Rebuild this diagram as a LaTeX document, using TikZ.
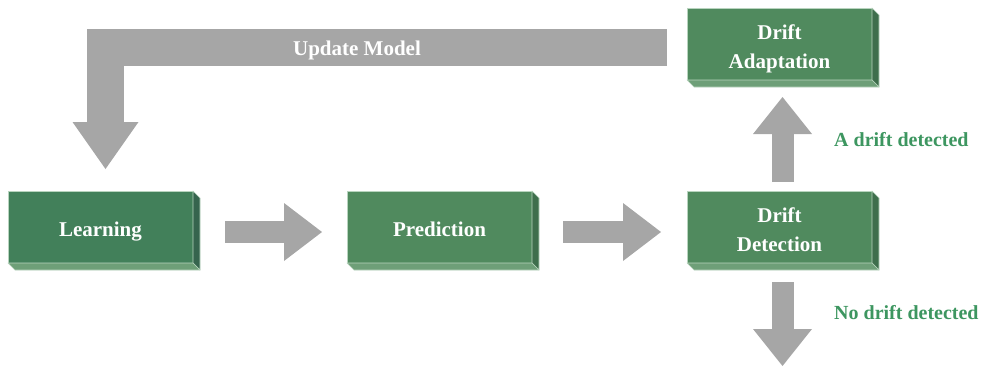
\documentclass[tikz,border=0pt]{standalone}
\usepackage{fontspec}
\setmainfont{Liberation Serif}
\usetikzlibrary{arrows.meta, calc}
\definecolor{slabFront}{HTML}{508A5E}
\definecolor{slabFrontDk}{HTML}{42805A}
\definecolor{slabSide}{HTML}{3E6E4C}
\definecolor{slabSideDk}{HTML}{36644E}
\definecolor{slabBottom}{HTML}{6E9F78}
\definecolor{slabEdge}{HTML}{B8D4BE}
\definecolor{flowGray}{HTML}{A6A6A6}
\definecolor{noteGreen}{HTML}{3D9660}

\begin{document}
\begin{tikzpicture}[
            % one unit = one pixel of the 982x370 layout, y grows downwards
            x=1pt, y=-1pt,
            slab/.style ={draw=slabEdge, line width=0.6pt, fill=slabFront, text=white, align=center,
                    minimum width=185pt, minimum height=72pt, inner sep=0pt, outer sep=0pt,
                    font=\fontsize{21}{29}\selectfont\bfseries, text height=19pt, text depth=0pt},
            % two-line labels: the box height runs up from the last baseline
            slab2/.style={slab, text height=48pt},
            face/.style ={draw=slabEdge, line width=0.6pt, line join=round},
            % the wide grey block arrows: a thick stroke with a flat triangle head
            flow/.style ={draw=flowGray, line width=22pt,
                    -{Triangle[length=38pt, width=58pt, line width=0pt]}},
            note/.style ={text=noteGreen, font=\fontsize{20}{24}\selectfont\bfseries,
                    anchor=west, inner sep=0pt}
        ]
        \useasboundingbox (0,0) rectangle (982,370);

        \node[slab, fill=slabFrontDk] (learn) at (100.5,227) {Learning};
        \node[slab]  (pred)  at (439.5,227) {Prediction};
        \node[slab2] (det)   at (779.5,227) {Drift\\Detection};
        \node[slab2] (adapt) at (779.5,44)  {Drift\\Adaptation};

        % right and bottom faces give each box its depth
        \foreach \n/\s in {learn/slabSideDk, pred/slabSide, det/slabSide, adapt/slabSide} {
            \draw[face, fill=\s] (\n.north east) -- ++(7,7) -- ++(0,72) -- (\n.south east) -- cycle;
            \draw[face, fill=slabBottom] (\n.south west) -- (\n.south east) -- ++(7,7)
                  -- ($(\n.south west)+(7,7)$) -- cycle;
        }

        \draw[flow, shorten <=32pt, shorten >=25pt] ([yshift=-5pt]learn.east) -- ([yshift=-5pt]pred.west);
        \draw[flow, shorten <=31pt, shorten >=26pt] ([yshift=-5pt]pred.east)  -- ([yshift=-5pt]det.west);
        \draw[flow, -{Triangle[length=37pt, width=59pt, line width=0pt]}, shorten <=9pt, shorten >=17pt]
              ([xshift=3pt]det.north) -- ([xshift=3pt]adapt.south);
        \coordinate (sink) at (782.5,366);
        \draw[flow, -{Triangle[length=37pt, width=59pt, line width=0pt]}, shorten <=19pt]
              ([xshift=3pt]det.south) -- (sink);

        % feedback loop back into learning, drawn as one wide elbow
        \draw[flow, line width=37pt, -{Triangle[length=47pt, width=66pt, line width=0pt]},
              shorten <=20pt, shorten >=22pt]
              ([yshift=-3.5pt]adapt.west) -| ([xshift=5pt]learn.north);
        \node[text=white, font=\fontsize{21}{24}\selectfont\bfseries] (upd) at (357,50) {Update Model};

        \node[note] (yes) at (834,140) {A drift detected};
        \node[note] (no)  at (834,313) {No drift detected};

    \end{tikzpicture}
\end{document}
